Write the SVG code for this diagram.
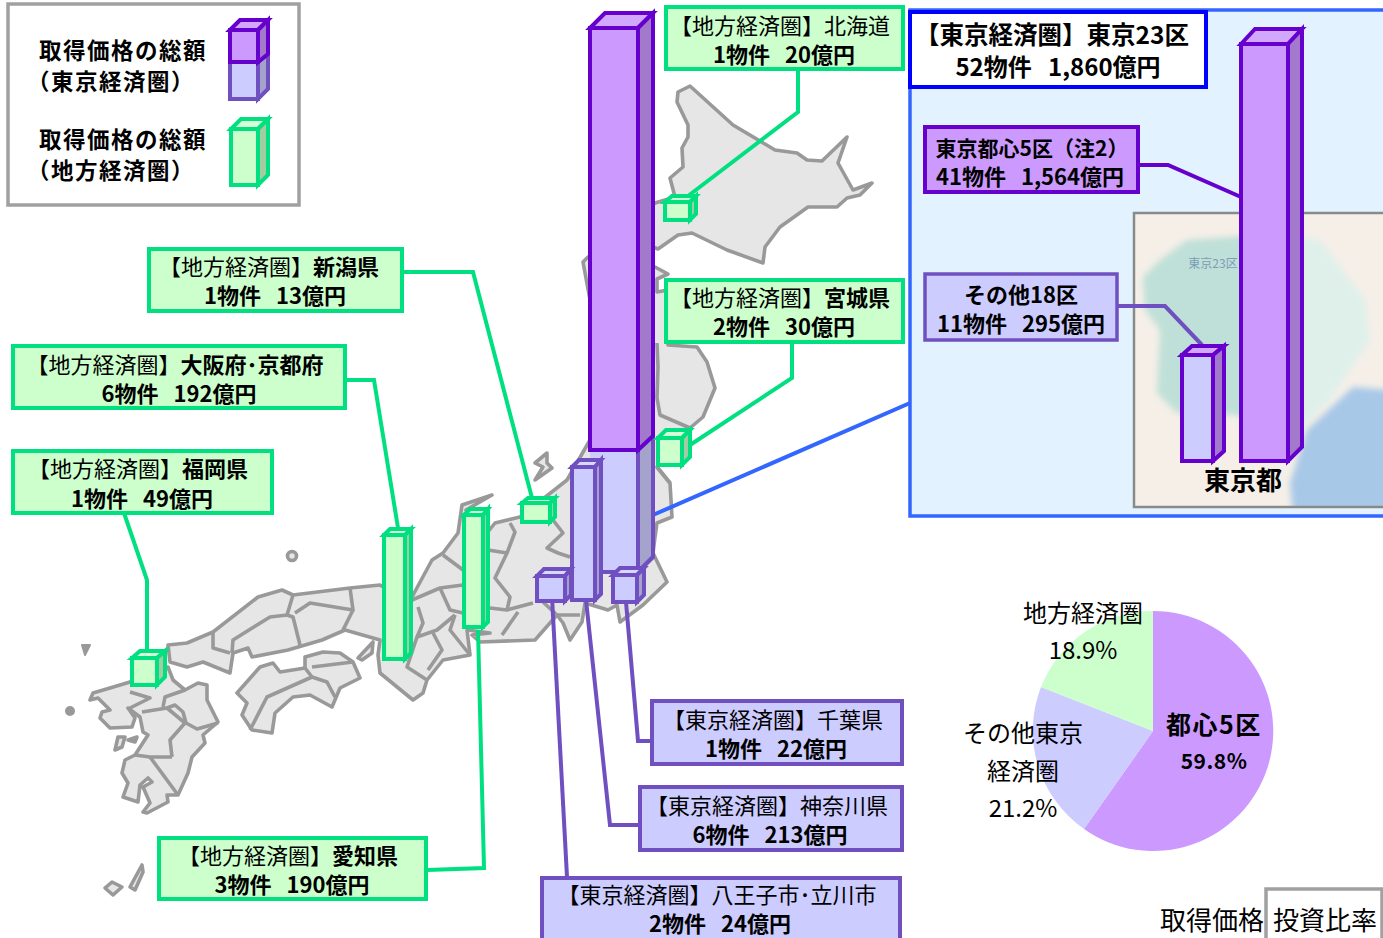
<svg xmlns="http://www.w3.org/2000/svg" width="1383" height="938" viewBox="0 0 1383 938">
<style>
text{font-family:"Noto Sans CJK JP","Liberation Sans",sans-serif;font-size:22px;fill:#000;text-anchor:middle}
.b{font-weight:700}
.map{fill:#E6E6E6;stroke:#999;stroke-width:3.6;stroke-linejoin:round}
.ln{fill:none;stroke:#999;stroke-width:3.6;stroke-linejoin:round}
.dot{fill:#999;stroke:#999;stroke-width:2;stroke-linejoin:round}
.gbox{fill:#CCFFCC;stroke:#00E080;stroke-width:4}
.pbox{fill:#CCCCFF;stroke:#7050C0;stroke-width:4}
.g path,.p path,.d path{stroke-width:4;stroke-linejoin:miter}
.g path{stroke:#00E080}.p path{stroke:#7050C0}.d path{stroke:#6600CC}
.g .f{fill:#CCFFCC}.g .t{fill:#D5FFD5}.g .s{fill:#A3CCA3}
.p .f{fill:#CCCCFF}.p .t{fill:#D8D8FF}.p .s{fill:#A3A3CC}
.d .f{fill:#CC99FF}.d .t{fill:#D2A8FF}.d .s{fill:#A379CC}
.lg{font-size:22.5px;letter-spacing:1.5px;font-weight:700}
</style>
<defs><filter id="bl" x="-10%" y="-10%" width="120%" height="120%"><feGaussianBlur stdDeviation="3"/></filter>
<clipPath id="ph"><rect x="1134" y="213" width="249" height="294"/></clipPath></defs>

<g id="map">
<path class="map" d="M690 86L678 92L677 102L688 125L688 137L682 148L683 167L670 178L675 197L655 203L640 215L640 245L653 247L658 249L678 235L692 233L727 250L763 263L765 247L780 227L808 207L837 207L847 198L860 195L872 183L853 190L838 163L847 137L822 161L807 160L797 153L775 150L733 125Z"/>
<path class="map" d="M583 262L588 257L620 250L655 267L668 274L657 279L657 292L668 290L668 345L697 347L707 362L715 388L703 417L690 428L682 440L657 467L670 483L672 517L657 523L655 537L653 553L667 582L643 605L620 622L617 605L608 610L585 603L582 622L570 640L563 623L557 615L535 640L480 642L472 635L490 633L467 630L470 655L443 660L427 680L423 693L413 700L380 673L378 655L380 640L345 630L322 640L288 650L252 657L248 648L233 653L230 673L203 662L187 667L170 662L168 645L187 643L213 632L258 597L282 590L293 595L350 588L380 585L405 600L412 597L432 560L443 553L458 533L462 505L492 495L466 510L487 533L495 523L520 517L567 480L590 440L590 300Z"/>
<path class="map" d="M237 693L260 667L273 663L280 672L305 668L305 657L323 652L340 653L353 662L360 678L340 688L332 707L310 695L293 697L275 713L272 733L252 730L242 715L247 703Z"/>
<path class="map" d="M130 682L110 688L93 693L90 700L98 698L110 710L102 712L100 718L110 728L132 727L135 718L128 708L140 717L143 732L148 735L135 755L125 760L122 773L128 783L123 797L138 802L140 785L148 778L152 782L143 787L150 803L143 812L147 813L168 802L167 795L178 795L188 773L192 757L205 743L203 735L218 722L207 700L207 685L198 683L185 690L173 680L168 667L150 670Z"/>
<path class="map" d="M547 453L535 463L543 467L535 480L552 468L547 463Z"/>
<path class="map" d="M358 658L373 642L372 653L362 660Z"/>
<path class="map" d="M115 750L118 737L125 737L122 747Z"/>
<path class="map" d="M128 740L137 737L135 742Z"/>
<path class="map" d="M105 888L112 882L122 887L113 895Z"/>
<path class="map" d="M130 887L142 865L143 872L135 890Z"/>
<circle class="map" cx="292" cy="556" r="4.5"/>
<path class="dot" d="M82 645L90 645L85 655Z"/>
<circle class="dot" cx="70" cy="711" r="4"/>
<g>
<path class="ln" d="M293 595L287 615L270 617L233 640L232 653"/>
<path class="ln" d="M287 615L293 617L300 645"/>
<path class="ln" d="M295 613L310 603L353 610L350 588"/>
<path class="ln" d="M353 610L343 630"/>
<path class="ln" d="M213 632L213 648L230 653"/>
<path class="ln" d="M412 600L440 588L463 585"/>
<path class="ln" d="M443 555L463 570"/>
<path class="ln" d="M440 588L450 610L463 613"/>
<path class="ln" d="M418 607L423 623L417 637L437 630L455 615"/>
<path class="ln" d="M417 637L407 667L427 680"/>
<path class="ln" d="M433 633L442 650L428 670"/>
<path class="ln" d="M455 615L450 630L470 655"/>
<path class="ln" d="M488 550L507 553L495 578L510 597L507 610"/>
<path class="ln" d="M490 608L507 610L533 603"/>
<path class="ln" d="M518 612L502 635"/>
<path class="ln" d="M510 523L515 532L507 553"/>
<path class="ln" d="M553 520L563 533L547 548L558 553L570 557"/>
<path class="ln" d="M543 602L557 615L580 615"/>
<path class="ln" d="M657 343L658 367L657 398L660 415L690 428"/>
<path class="ln" d="M657 467L670 483"/>
<path class="ln" d="M305 668L312 677L327 682L335 697"/>
<path class="ln" d="M312 667L353 662"/>
<path class="ln" d="M250 730L267 697L312 677"/>
<path class="ln" d="M142 712L167 708L185 723L170 740L172 757"/>
<path class="ln" d="M163 707L165 697L185 690"/>
<path class="ln" d="M167 708L175 705L183 712L186 723L197 729L218 723"/>
<path class="ln" d="M135 755L150 757L172 757"/>
<path class="ln" d="M150 757L178 795"/>
<path class="ln" d="M130 708L150 698L130 692"/>
</g>
</g>

<g id="inset">
<rect x="910" y="10" width="476" height="506" fill="#E2F3FF" stroke="#3366FF" stroke-width="3.5"/>
<g clip-path="url(#ph)">
<rect x="1134" y="213" width="249" height="294" fill="#F5EFE8"/>
<g filter="url(#bl)">
<path fill="#DFF0EA" d="M1250 232L1320 240L1365 300L1370 340L1330 400L1290 440L1240 430L1240 240Z"/>
<path fill="#BFE0D8" d="M1143 277L1160 260L1187 240L1240 236L1285 230L1290 420L1230 415L1177 413L1157 393L1160 330L1145 310Z"/>
<path fill="#A8C8E8" d="M1293 515L1290 483L1307 430L1353 387L1390 390L1390 515Z"/>
</g>
<text x="1213" y="268" style="font-size:12px;fill:#7A9DB5">東京23区</text>
</g>
<rect x="1134" y="213" width="252" height="294" fill="none" stroke="#8A8A8A" stroke-width="2.5"/>
</g>

<g id="connectors" fill="none" stroke-width="4">
<path stroke="#00E080" d="M798 69V112L688 196"/>
<path stroke="#00E080" d="M792 342V378L690 445"/>
<path stroke="#00E080" d="M403 272H473L532 498"/>
<path stroke="#00E080" d="M345 380H374L398 528"/>
<path stroke="#00E080" d="M124 513L147 580V650"/>
<path stroke="#00E080" d="M427 870L484 868L478 630"/>
<path stroke="#3366FF" d="M653 515L910 403"/>
<path stroke="#6600CC" d="M1138 165H1168L1241 197"/>
<path stroke="#7050C0" d="M1117 306H1165L1202 345"/>
</g>

<g id="bar-tokyo-lower" class="p">
<path class="s" d="M638 450L653 436V557L638 572Z"/>
<path class="f" d="M590 450H638V572H590Z" style="stroke:none"/>
<path class="f" style="fill:none" d="M638 450V572H590M653 436V557L638 572"/>
</g>
<g id="bar-tokyo-upper" class="d">
<path class="t" d="M590 28L605 13H653L638 28Z"/>
<path class="s" d="M638 28L653 13V436L638 450Z"/>
<path class="f" d="M590 28H638V450H590Z"/>
</g>
<g id="bar-hokkaido" class="g"><path class="t" d="M665 202L672 196H696L690 202Z"/><path class="s" d="M690 202L696 196V214L690 220Z"/><path class="f" d="M665 202H690V220H665Z"/></g>
<g id="bar-miyagi" class="g"><path class="t" d="M658 438L666 430H690L682 438Z"/><path class="s" d="M682 438L690 430V457L682 465Z"/><path class="f" d="M658 438H682V465H658Z"/></g>
<g id="bar-niigata" class="g"><path class="t" d="M522 503L528 498H555L550 503Z"/><path class="s" d="M550 503L555 498V517L550 522Z"/><path class="f" d="M522 503H550V522H522Z"/></g>
<g id="bar-osaka" class="g"><path class="t" d="M384 535L390 529H411L405 535Z"/><path class="s" d="M405 535L411 529V653L405 659Z"/><path class="f" d="M384 535H405V659H384Z"/></g>
<g id="bar-aichi" class="g"><path class="t" d="M464 515L470 509H488L483 515Z"/><path class="s" d="M483 515L488 509V622L483 627Z"/><path class="f" d="M464 515H483V627H464Z"/></g>
<g id="bar-fukuoka" class="g"><path class="t" d="M132 658L140 651H165L157 658Z"/><path class="s" d="M157 658L165 651V677L157 685Z"/><path class="f" d="M132 658H157V685H132Z"/></g>

<g id="connectors-purple" fill="none" stroke="#7050C0" stroke-width="4">
<path d="M567 877L552 597"/>
<path d="M639 825H610L586 600"/>
<path d="M651 741H638L626 602"/>
</g>
<g id="bar-kanagawa" class="p"><path class="t" d="M572 467L579 460H601L595 467Z"/><path class="s" d="M595 467L601 460V594L595 600Z"/><path class="f" d="M572 467H595V600H572Z"/></g>
<g id="bar-hachioji" class="p"><path class="t" d="M537 576L544 569H571L565 576Z"/><path class="s" d="M565 576L571 569V595L565 601Z"/><path class="f" d="M537 576H565V601H537Z"/></g>
<g id="bar-chiba" class="p"><path class="t" d="M613 575L620 568H644L637 575Z"/><path class="s" d="M637 575L644 568V595L637 602Z"/><path class="f" d="M613 575H637V602H613Z"/></g>

<g id="bar-23ku" class="d"><path class="t" d="M1241 44L1255 29H1302L1288 44Z"/><path class="s" d="M1288 44L1302 29V447L1288 461Z"/><path class="f" d="M1241 44H1288V461H1241Z"/></g>
<g id="bar-18ku" class="d"><path class="t" d="M1182 355L1192 346H1224L1213 355Z"/><path class="s" d="M1213 355L1224 346V451L1213 461Z"/><path class="f" d="M1182 355H1213V461H1182Z" style="fill:#CCCCFF"/></g>
<text x="1243" y="490" class="b" style="font-size:26px">東京都</text>

<g id="legend">
<rect x="8" y="4" width="291" height="201" fill="#fff" stroke="#A0A0A0" stroke-width="3.5"/>
<text x="123" y="59" class="lg">取得価格の総額</text>
<text x="111" y="90" class="lg">（東京経済圏）</text>
<text x="123" y="148" class="lg">取得価格の総額</text>
<text x="111" y="179" class="lg">（地方経済圏）</text>
<g class="p"><path class="s" d="M258 62L268 54V89L258 99Z"/><path class="f" d="M230 62H258V99H230Z"/></g>
<g class="d"><path class="t" d="M230 30L240 20H268L258 30Z"/><path class="s" d="M258 30L268 20V54L258 62Z"/><path class="f" d="M230 30H258V62H230Z"/></g>
<g class="g"><path class="t" d="M231 129L241 119H268L258 129Z"/><path class="s" d="M258 129L268 119V175L258 185Z"/><path class="f" d="M231 129H258V185H231Z"/></g>
</g>

<g id="box-hokkaido"><rect class="gbox" x="666" y="7" width="237" height="62"/><text x="780" y="34">【地方経済圏】北海道</text><text x="784" y="63" class="b">1物件&#160;&#160;&#160;20億円</text></g>
<g id="box-miyagi"><rect class="gbox" x="666" y="280" width="237" height="62"/><text x="780" y="306">【地方経済圏】<tspan class="b">宮城県</tspan></text><text x="784" y="335" class="b">2物件&#160;&#160;&#160;30億円</text></g>
<g id="box-niigata"><rect class="gbox" x="149" y="249" width="253" height="62"/><text x="269" y="275">【地方経済圏】<tspan class="b">新潟県</tspan></text><text x="275" y="304" class="b">1物件&#160;&#160;&#160;13億円</text></g>
<g id="box-osaka"><rect class="gbox" x="13" y="346" width="332" height="62"/><text x="175" y="373">【地方経済圏】<tspan class="b">大阪府･京都府</tspan></text><text x="179" y="402" class="b">6物件&#160;&#160;&#160;192億円</text></g>
<g id="box-fukuoka"><rect class="gbox" x="13" y="451" width="259" height="62"/><text x="138" y="477">【地方経済圏】<tspan class="b">福岡県</tspan></text><text x="142" y="507" class="b">1物件&#160;&#160;&#160;49億円</text></g>
<g id="box-aichi"><rect class="gbox" x="159" y="838" width="267" height="61"/><text x="288" y="864">【地方経済圏】<tspan class="b">愛知県</tspan></text><text x="292" y="893" class="b">3物件&#160;&#160;&#160;190億円</text></g>
<g id="box-chiba"><rect class="pbox" x="652" y="701" width="250" height="63"/><text x="773" y="728">【東京経済圏】千葉県</text><text x="776" y="757" class="b">1物件&#160;&#160;&#160;22億円</text></g>
<g id="box-kanagawa"><rect class="pbox" x="640" y="787" width="262" height="63"/><text x="767" y="814">【東京経済圏】神奈川県</text><text x="770" y="843" class="b">6物件&#160;&#160;&#160;213億円</text></g>
<g id="box-hachioji"><rect class="pbox" x="542" y="878" width="358" height="70"/><text x="717" y="903">【東京経済圏】八王子市･立川市</text><text x="720" y="932" class="b">2物件&#160;&#160;&#160;24億円</text></g>
<g id="box-23ku"><rect x="910" y="12" width="296" height="75" fill="#fff" stroke="#0000FF" stroke-width="4"/><text x="1052" y="44" class="b" style="font-size:24.5px">【東京経済圏】東京23区</text><text x="1058" y="76" class="b" style="font-size:24px">52物件&#160;&#160;&#160;1,860億円</text></g>
<g id="box-5ku"><rect x="925" y="127" width="213" height="65" fill="#CC99FF" stroke="#6600CC" stroke-width="4"/><text x="1032" y="156" class="b" style="font-size:21px">東京都心5区（注2）</text><text x="1030" y="185" class="b">41物件&#160;&#160;&#160;1,564億円</text></g>
<g id="box-18ku"><rect x="925" y="274" width="192" height="66" fill="#CCCCFF" stroke="#7050C0" stroke-width="3.5"/><text x="1021" y="303" class="b">その他18区</text><text x="1021" y="332" class="b">11物件&#160;&#160;&#160;295億円</text></g>

<g id="pie">
<path fill="#CC99FF" d="M1153 731V611A120 120 0 1 1 1084 829Z"/>
<path fill="#CCCCFF" d="M1153 731L1084 829A120 120 0 0 1 1041 687Z"/>
<path fill="#CCFFCC" d="M1153 731L1041 687A120 120 0 0 1 1153 611Z"/>
<text x="1083" y="622" style="font-size:24px">地方経済圏</text>
<text x="1083" y="659" style="font-size:24px">18.9%</text>
<text x="1214" y="734" class="b" style="font-size:25px;letter-spacing:1.5px">都心5区</text>
<text x="1214" y="769" class="b" style="font-size:21px;letter-spacing:.5px">59.8%</text>
<text x="1023" y="742" style="font-size:24px">その他東京</text>
<text x="1023" y="780" style="font-size:24px">経済圏</text>
<text x="1023" y="817" style="font-size:24px">21.2%</text>
</g>
<g id="pie-title">
<rect x="1266" y="889" width="116" height="55" fill="#fff" stroke="#A0A0A0" stroke-width="3.5"/>
<text x="1212" y="930" style="font-size:26px">取得価格</text>
<text x="1325" y="930" style="font-size:26px">投資比率</text>
</g>
</svg>
